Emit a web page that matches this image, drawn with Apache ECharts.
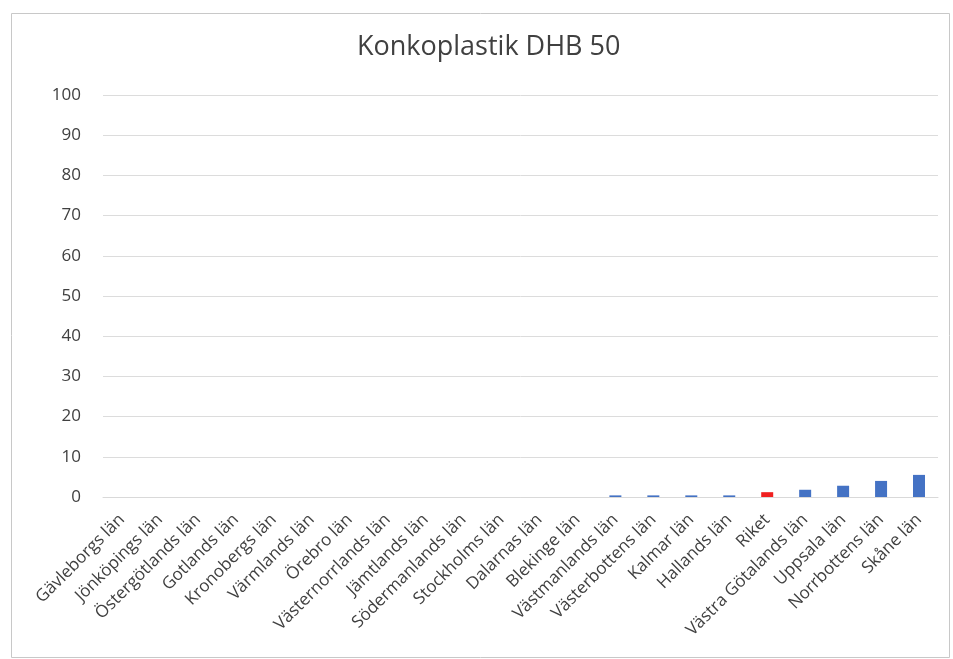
<!DOCTYPE html>
<html>
<head>
<meta charset="utf-8">
<script src="https://cdn.jsdelivr.net/npm/echarts@6/dist/echarts.min.js"></script>
<style>html,body{margin:0;padding:0;background:#fff}#c{width:953px;height:659px}</style>
</head>
<body>
<div id="c"></div>
<script>
const categories = ["Gävleborgs län","Jönköpings län","Östergötlands län","Gotlands län","Kronobergs län","Värmlands län","Örebro län","Västernorrlands län","Jämtlands län","Södermanlands län","Stockholms län","Dalarnas län","Blekinge län","Västmanlands län","Västerbottens län","Kalmar län","Hallands län","Riket","Västra Götalands län","Uppsala län","Norrbottens län","Skåne län"];
const values = [0,0,0,0,0,0,0,0,0,0,0,0,0,0.4,0.4,0.4,0.4,1.2,1.8,2.8,4.0,5.5];
const highlight = "Riket";
const yTicks = [0,10,20,30,40,50,60,70,80,90,100];

const chart = echarts.init(document.getElementById('c'));
const font = "'Open Sans', 'Liberation Sans', sans-serif";
chart.setOption({
  animation: false,
  backgroundColor: '#fff',
  title: {
    text: 'Konkoplastik DHB 50',
    left: 352, top: 29,
    textStyle: { fontFamily: font, fontSize: 27, fontWeight: 'normal', color: '#404040' }
  },
  graphic: [{
    type: 'rect', left: 9, top: 11,
    shape: { width: 938, height: 644 },
    style: { fill: 'none', stroke: '#c8c8c8', lineWidth: 1 }
  }],
  grid: { left: 103, right: 15, top: 95, bottom: 162 },
  xAxis: {
    type: 'category',
    data: categories,
    axisTick: { show: false },
    axisLine: { show: true, lineStyle: { color: '#d9d9d9' } },
    axisLabel: { rotate: 45, interval: 0, fontFamily: font, fontSize: 17, color: '#404040', margin: 20 }
  },
  yAxis: {
    type: 'value', min: yTicks[0], max: yTicks[yTicks.length - 1], interval: 10,
    axisLine: { show: false }, axisTick: { show: false },
    splitLine: { lineStyle: { color: '#dcdcdc' } },
    axisLabel: { fontFamily: font, fontSize: 17, color: '#404040', margin: 22 }
  },
  series: [{
    type: 'bar',
    barWidth: 12,
    data: values.map((v, i) => ({
      value: v,
      itemStyle: { color: categories[i] === highlight ? '#f02020' : '#4472c4' }
    }))
  }]
});
</script>
</body>
</html>
